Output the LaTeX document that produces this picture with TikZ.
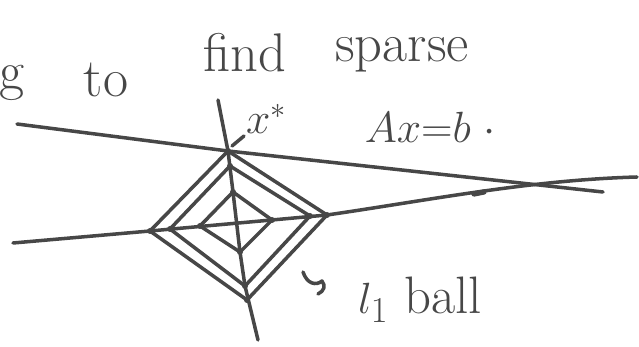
\documentclass[tikz,border=0pt]{standalone}
\usetikzlibrary{positioning,calc}
\definecolor{pen}{HTML}{474747}
\tikzset{
  stroke/.style = {draw=pen, line width=2pt, line cap=round, line join=round},
  hand/.style   = {text=pen, font=\fontsize{31}{36}\selectfont, inner sep=1pt},
  lab/.style    = {text=pen, font=\fontsize{26}{30}\selectfont, inner sep=1pt},
}

\begin{document}
\begin{tikzpicture}[x=0.02cm, y=-0.02cm]
  \useasboundingbox (0,0) rectangle (639,347);

  % heading words
  \node[hand, anchor=base] (wg)     at (12,90)   {g};
  \node[hand, anchor=base] (wto)    at (106,97)  {to};
  \node[hand, anchor=base] (wfind)  at (245,72)  {find};
  \node[hand, anchor=base] (wsparse) at (402,62) {sparse};

  % ends of the lines
  \coordinate (aL) at (17,124);
  \coordinate (aR) at (603,192);
  \coordinate (hL) at (13,243);
  \coordinate (hR) at (637,177);
  \coordinate (vT) at (218,100);
  \coordinate (vB) at (258,340);

  % diamond corners: outer, middle, inner
  \coordinate (ot) at (228,151);
  \coordinate (ol) at (150,231);
  \coordinate (ob) at (247,300);
  \coordinate (or) at (327,215);
  \coordinate (mt) at (230,166);
  \coordinate (ml) at (170,229);
  \coordinate (mb) at (245,286);
  \coordinate (mr) at (310,216);
  \coordinate (it) at (233,192);
  \coordinate (il) at (200,226);
  \coordinate (ib) at (240,252);
  \coordinate (ir) at (272,220);

  % Ax=b and the two axes
  \draw[stroke] (aL) -- (ot) -- (aR);
  \draw[stroke] (hL) -- (ol) -- (or) .. controls (430,200) and (530,180) .. (hR);
  \draw[stroke] (vT) -- (ot) -- (it) -- (ib) -- (mb) -- (vB);
  \draw[stroke, line width=3pt] (474,194) -- (484,192);

  % l1 balls
  \draw[stroke] (ot) -- (or) -- (ob) -- (ol) -- cycle;
  \draw[stroke] (mt) -- (mr) -- (mb) -- (ml) -- cycle;
  \draw[stroke] (it) -- (ir) -- (ib) -- (il) -- cycle;
  \foreach \v in {ot,ol,ob,or,mt,ml,mb,mr,it,il,ib,ir}
    \fill[pen] (\v) circle (3);

  % labels
  \node[lab, anchor=south west] (xs) at (244,136) {$x^*$};
  \node[lab] (eq)  at (430,127) {$Ax{=}b\;\cdot$};
  \node[lab, font=\fontsize{30}{34}\selectfont, anchor=base] (ball) at (420,314) {$l_1$ ball};
  \coordinate (xp) at (232,146);
  \draw[stroke] (xp) -- (xs.south west);
  \coordinate (cs) at (303,272);
  \draw[stroke] (cs) .. controls (307,284) and (316,286) .. (322,281)
                     .. controls (326,286) and (324,291) .. (318,294);

\end{tikzpicture}
\end{document}
